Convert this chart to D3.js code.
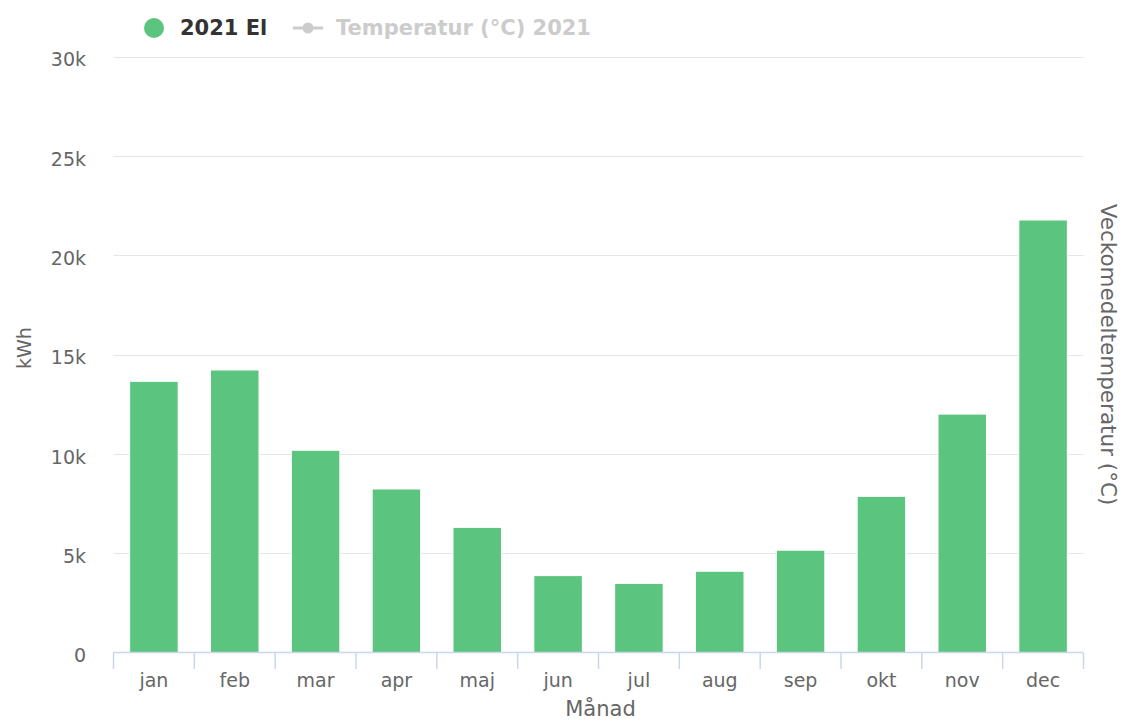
<!DOCTYPE html>
<html>
<head>
<meta charset="utf-8">
<script src="https://cdn.jsdelivr.net/npm/d3@7"></script>
<style>
  body { margin: 0; background: #fff; }
  svg { font-family: "DejaVu Sans", sans-serif; }
</style>
</head>
<body>
<div id="chart"></div>
<script>
// monthly electricity use 2021
const months = ["jan", "feb", "mar", "apr", "maj", "jun", "jul", "aug", "sep", "okt", "nov", "dec"]
const el2021 = [13650, 14220, 10180, 8230, 6300, 3870, 3480, 4090, 5150, 7860, 12000, 21770]
const yTicks = [0, 5000, 10000, 15000, 20000, 25000, 30000]
const seriesNames = ["2021 El", "Temperatur (°C) 2021"]

const width = 1123, height = 722
const plotLeft = 113.5, plotRight = 1083.5, plotTop = 56.5, plotBottom = 652.5

const svg = d3.select("#chart").append("svg")
    .attr("width", width)
    .attr("height", height)

const x = d3.scaleBand().domain(months).range([plotLeft, plotRight])
    .paddingInner(0.4).paddingOuter(0.2)
const xStep = d3.scaleBand().domain(months).range([plotLeft, plotRight])
const y = d3.scaleLinear().domain([0, 30000]).range([plotBottom, plotTop])

// grid
svg.append("g").selectAll("line")
    .data(yTicks.slice(1))
    .join("line")
    .attr("x1", plotLeft).attr("x2", plotRight)
    .attr("y1", d => Math.round(y(d)) + 0.5)
    .attr("y2", d => Math.round(y(d)) + 0.5)
    .attr("stroke", "#e6e6e6")
    .attr("stroke-width", 1)

// y labels
svg.append("g").selectAll("text")
    .data(yTicks)
    .join("text")
    .attr("x", 86)
    .attr("y", d => y(d))
    .attr("dy", "0.52em")
    .attr("text-anchor", "end")
    .attr("fill", "#666")
    .attr("font-size", 19)
    .text(d => d === 0 ? "0" : (d / 1000) + "k")

// bars
svg.append("g").selectAll("rect")
    .data(el2021)
    .join("rect")
    .attr("x", (d, i) => x(months[i]))
    .attr("y", d => y(d))
    .attr("width", x.bandwidth())
    .attr("height", d => y(0) - y(d))
    .attr("fill", "#5bc47e")
    .attr("stroke", "#fff")
    .attr("stroke-width", 1)

// x axis line + ticks
svg.append("line")
    .attr("x1", plotLeft).attr("x2", plotRight)
    .attr("y1", plotBottom).attr("y2", plotBottom)
    .attr("stroke", "#ccd6eb")
    .attr("stroke-width", 1.5)

svg.append("g").selectAll("line")
    .data(months.concat(["end"]))
    .join("line")
    .attr("x1", (d, i) => plotLeft + i * xStep.step())
    .attr("x2", (d, i) => plotLeft + i * xStep.step())
    .attr("y1", plotBottom)
    .attr("y2", 669)
    .attr("stroke", "#ccd6eb")
    .attr("stroke-width", 1.5)

svg.append("g").selectAll("text")
    .data(months)
    .join("text")
    .attr("x", d => xStep(d) + xStep.bandwidth() / 2)
    .attr("y", 687)
    .attr("text-anchor", "middle")
    .attr("fill", "#666")
    .attr("font-size", 19)
    .text(d => d)

// axis titles
svg.append("text")
    .attr("x", (plotLeft + plotRight) / 2 + 2)
    .attr("y", 716)
    .attr("text-anchor", "middle")
    .attr("fill", "#666")
    .attr("font-size", 21)
    .text("Månad")

svg.append("text")
    .attr("transform", "translate(31, 348) rotate(-90)")
    .attr("text-anchor", "middle")
    .attr("fill", "#666")
    .attr("font-size", 19)
    .text("kWh")

svg.append("text")
    .attr("transform", `translate(1101, ${(plotTop + plotBottom) / 2}) rotate(90)`)
    .attr("text-anchor", "middle")
    .attr("fill", "#666")
    .attr("font-size", 21.5)
    .text("Veckomedeltemperatur (°C)")

// legend
let legend = svg.append("g")
legend.append("circle")
    .attr("cx", 154).attr("cy", 28).attr("r", 10)
    .attr("fill", "#5bc47e")
legend.append("text")
    .attr("x", 180).attr("y", 35)
    .attr("font-size", 21).attr("font-weight", "bold")
    .attr("fill", "#333")
    .text(seriesNames[0])
legend.append("line")
    .attr("x1", 293).attr("x2", 323)
    .attr("y1", 28).attr("y2", 28)
    .attr("stroke", "#ccc").attr("stroke-width", 3)
legend.append("circle")
    .attr("cx", 308).attr("cy", 28).attr("r", 5.5)
    .attr("fill", "#ccc")
legend.append("text")
    .attr("x", 336).attr("y", 35)
    .attr("font-size", 21).attr("font-weight", "bold")
    .attr("fill", "#ccc")
    .text(seriesNames[1])
</script>
</body>
</html>
